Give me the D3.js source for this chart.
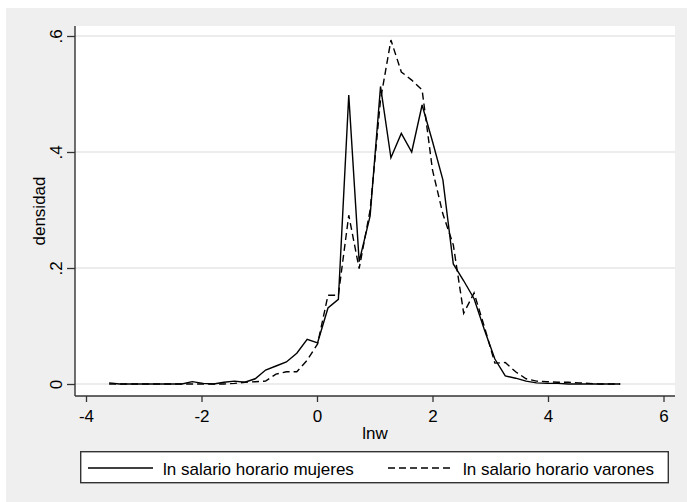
<!DOCTYPE html>
<html>
<head>
<meta charset="utf-8">
<script src="https://cdn.jsdelivr.net/npm/d3@7"></script>
<style>
  body{margin:0;background:#fff;}
  svg{display:block;font-family:"Liberation Sans",Arial,sans-serif;}
</style>
</head>
<body>
<div class="chart"></div>
<script>
// evaluation points of the kernel density (lnw)
var lnwGrid = [-3.60,-3.42,-3.24,-3.06,-2.88,-2.70,-2.52,-2.34,-2.16,-1.97,
               -1.79,-1.61,-1.43,-1.25,-1.07,-0.89,-0.71,-0.53,-0.35,-0.17,
                0.01, 0.19, 0.37, 0.55, 0.73, 0.92, 1.10, 1.28, 1.46, 1.64,
                1.82, 2.00, 2.18, 2.36, 2.54, 2.72, 2.90, 3.08, 3.26, 3.44,
                3.62, 3.80, 3.99, 4.17, 4.35, 4.53, 4.71, 4.89, 5.07, 5.25];
var mujeres = [0.002,0.000,0.000,0.000,0.000,0.000,0.000,0.000,0.004,0.001,
               0.000,0.003,0.005,0.003,0.009,0.024,0.031,0.038,0.053,0.077,
               0.071,0.131,0.146,0.498,0.211,0.290,0.513,0.390,0.432,0.400,
               0.481,0.418,0.352,0.207,0.178,0.147,0.093,0.043,0.014,0.010,
               0.005,0.002,0.001,0.001,0.000,0.000,0.000,0.000,0.000,0.000];
var varones = [0.000,0.000,0.000,0.000,0.000,0.000,0.000,0.000,0.000,0.000,
               0.000,0.000,0.001,0.003,0.004,0.005,0.017,0.021,0.021,0.041,
               0.069,0.153,0.153,0.291,0.199,0.300,0.490,0.593,0.538,0.524,
               0.507,0.369,0.293,0.240,0.122,0.157,0.098,0.036,0.037,0.021,
               0.009,0.005,0.004,0.003,0.003,0.002,0.001,0.000,0.000,0.000];
var seriesNames = ["ln salario horario mujeres","ln salario horario varones"];
var xTicks = [-4,-2,0,2,4,6];
var yTicks = [0,0.2,0.4,0.6];
var yTickLabels = ["0",".2",".4",".6"];

var width = 687, height = 502;
var plot = {left:75, top:26, right:675, bottom:396};

var svg = d3.select(".chart").append("svg")
            .attr("width",width)
            .attr("height",height);

svg.append("rect")
   .attr("x",6).attr("y",8)
   .attr("width",width-6).attr("height",height-8)
   .style("fill","#efefef");

svg.append("rect")
   .attr("x",plot.left).attr("y",plot.top)
   .attr("width",plot.right-plot.left).attr("height",plot.bottom-plot.top)
   .style("fill","#fff");

var x = d3.scaleLinear().domain([-4,6]).range([86,663.5]);
var y = d3.scaleLinear().domain([0,0.6]).range([384,36]);

// grid
svg.selectAll(".grid")
   .data(yTicks)
   .enter().append("line")
     .attr("class","grid")
     .attr("x1",plot.left).attr("x2",plot.right)
     .attr("y1",function(d){ return y(d); })
     .attr("y2",function(d){ return y(d); })
     .style("stroke","#e6e6e6")
     .style("stroke-width",1.4);

// x axis
var xAxis = svg.append("g")
   .attr("transform","translate(0,"+plot.bottom+")")
   .call(d3.axisBottom(x).tickValues(xTicks).tickSize(6).tickPadding(8)
           .tickFormat(function(d){ return String(d); }));
xAxis.select(".domain").remove();

// y axis
var yAxis = svg.append("g")
   .attr("transform","translate("+plot.left+",0)")
   .call(d3.axisLeft(y).tickValues(yTicks).tickSize(8)
           .tickFormat(function(d,i){ return yTickLabels[i]; }));
yAxis.select(".domain").remove();
yAxis.selectAll("text")
     .attr("x",0).attr("dy",null)
     .attr("text-anchor","middle")
     .attr("transform","translate(-13.5,0) rotate(-90)");

svg.selectAll(".tick line").style("stroke","#333").style("stroke-width",1.3);
svg.selectAll(".tick text").style("font-size","17px").style("fill","#000")
   .style("font-family","'Liberation Sans',Arial,sans-serif");

svg.append("line")
   .attr("x1",plot.left).attr("x2",plot.right)
   .attr("y1",plot.bottom).attr("y2",plot.bottom)
   .style("stroke","#333").style("stroke-width",1.4);
svg.append("line")
   .attr("x1",plot.left).attr("x2",plot.left)
   .attr("y1",plot.top).attr("y2",plot.bottom)
   .style("stroke","#333").style("stroke-width",1.4);

// axis titles
svg.append("text")
   .attr("x",(plot.left+plot.right)/2).attr("y",439)
   .style("text-anchor","middle").style("font-size","17px")
   .text("lnw");
svg.append("text")
   .attr("transform","translate(45,211) rotate(-90)")
   .style("text-anchor","middle").style("font-size","17px")
   .text("densidad");

// density lines
var line = d3.line()
   .x(function(d,i){ return x(lnwGrid[i]); })
   .y(function(d){ return y(d); });
var dashes = [null,"7,4"];
[mujeres,varones].forEach(function(s,k){
  svg.append("path")
     .datum(s)
     .attr("d",line)
     .style("fill","none")
     .style("stroke","#000")
     .style("stroke-width",1.4)
     .style("stroke-dasharray",dashes[k]);
});

// legend
svg.append("rect")
   .attr("x",80.7).attr("y",451.7)
   .attr("width",587.6).attr("height",31)
   .style("fill","#fff").style("stroke","#333").style("stroke-width",1.4);
var legend = svg.selectAll(".legend")
   .data(seriesNames)
   .enter().append("g")
     .attr("class","legend")
     .attr("transform",function(d,i){ return "translate("+(88+i*300)+",0)"; });
legend.append("line")
      .attr("x1",0).attr("x2",65)
      .attr("y1",468).attr("y2",468)
      .style("stroke","#000").style("stroke-width",1.4)
      .style("stroke-dasharray",function(d,i){ return dashes[i]; });
legend.append("text")
      .attr("x",75).attr("y",475)
      .style("font-size","17px")
      .text(function(d){ return d; });
</script>
</body>
</html>
